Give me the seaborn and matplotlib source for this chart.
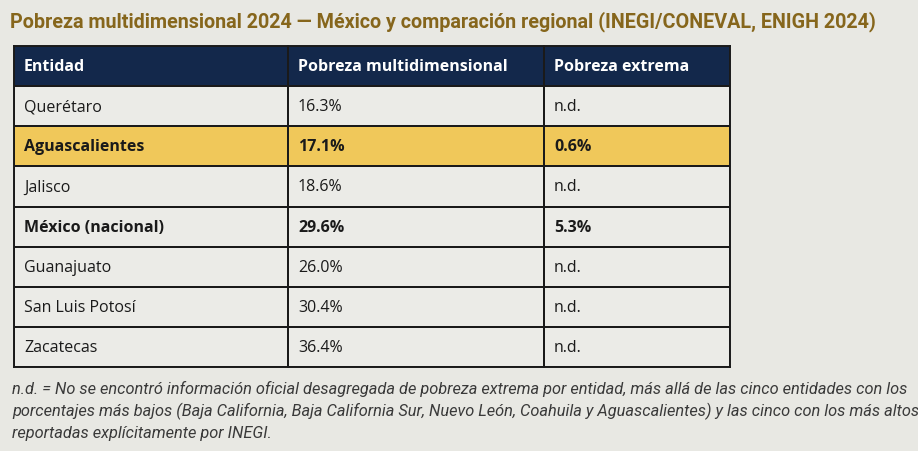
import numpy as np
import pandas as pd
import matplotlib
matplotlib.use("Agg")
import matplotlib.pyplot as plt
from matplotlib.colors import ListedColormap
from matplotlib import font_manager
import seaborn as sns

# ---- data ----
title = "Pobreza multidimensional 2024 — México y comparación regional (INEGI/CONEVAL, ENIGH 2024)"
headers = ["Entidad", "Pobreza multidimensional", "Pobreza extrema"]
entidades = ["Querétaro", "Aguascalientes", "Jalisco", "México (nacional)",
             "Guanajuato", "San Luis Potosí", "Zacatecas"]
pobreza_multi = [16.3, 17.1, 18.6, 29.6, 26.0, 30.4, 36.4]
pobreza_extrema = [None, 0.6, None, 5.3, None, None, None]
highlight = ["Aguascalientes"]
bold_rows = ["Aguascalientes", "México (nacional)"]
footnote = ("n.d. = No se encontró información oficial desagregada de pobreza extrema por entidad, más allá de las cinco entidades con los\n"
            "porcentajes más bajos (Baja California, Baja California Sur, Nuevo León, Coahuila y Aguascalientes) y las cinco con los más altos\n"
            "reportadas explícitamente por INEGI.")

sns.set_theme(style="white")
avail = {f.name for f in font_manager.fontManager.ttflist}
narrow = "Liberation Sans Narrow" if "Liberation Sans Narrow" in avail else "Roboto"
body = "Open Sans" if "Open Sans" in avail else "DejaVu Sans"
plt.rcParams['font.family'] = [body, 'DejaVu Sans']

BG = "#e8e8e3"
CELL = "#ebebe7"
GOLD = "#f0c85a"
NAVY = "#13284b"

def fmt(v):
    return "n.d." if v is None else f"{v:.1f}%"

col_text = [entidades, [fmt(v) for v in pobreza_multi], [fmt(v) for v in pobreza_extrema]]

codes = np.array([2] + [1 if e in highlight else 0 for e in entidades]).reshape(-1, 1)
df = pd.DataFrame(codes, columns=["c"])
cmap = ListedColormap([CELL, GOLD, NAVY])

W, H = 918, 452
fig = plt.figure(figsize=(W / 100, H / 100), dpi=100)
fig.patch.set_facecolor(BG)

edges = [14, 288, 544, 730]
top, bottom = 47, 368
for j in range(3):
    ax = fig.add_axes([edges[j] / W, (H - bottom) / H, (edges[j + 1] - edges[j]) / W, (bottom - top) / H])
    sns.heatmap(df, ax=ax, cmap=cmap, vmin=-0.5, vmax=2.5, cbar=False,
                linewidths=1.2, linecolor="#1a1a1a", xticklabels=False, yticklabels=False)
    for s in ax.spines.values():
        s.set_visible(True)
        s.set_color("#1a1a1a")
        s.set_linewidth(1.4)
    pad = 10 / (edges[j + 1] - edges[j])
    ax.text(pad, 0.5, headers[j], transform=ax.get_yaxis_transform(), ha="left", va="center",
            color="white", fontsize=11.5, fontweight="bold")
    for i, t in enumerate(col_text[j]):
        b = entidades[i] in bold_rows
        ax.text(pad, i + 1.5, t, transform=ax.get_yaxis_transform(), ha="left", va="center",
                color="#1a1a1a", fontsize=11.5, fontweight="bold" if b else "normal")

fig.text(10 / W, 1 - 22 / H, title, ha="left", va="center", color="#86661c",
         fontsize=14.2, fontweight="bold", family=[narrow, 'DejaVu Sans'])
fig.text(12 / W, 1 - 411 / H, footnote, ha="left", va="center", color="#3a3a3a",
         fontsize=11.8, style="italic", family=[narrow, 'DejaVu Sans'], linespacing=1.45)

fig.savefig("out.png", dpi=100, facecolor=BG)
